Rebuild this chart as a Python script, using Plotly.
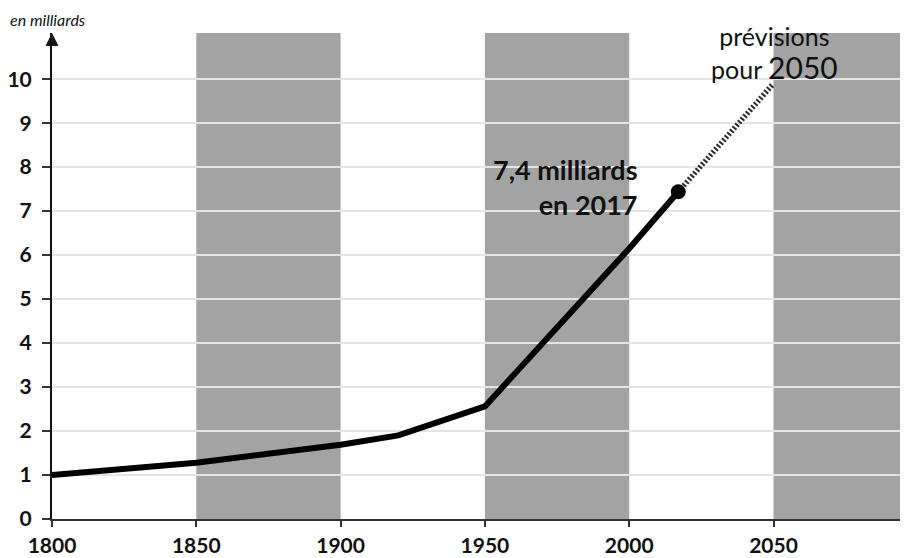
import plotly.graph_objects as go

years = [1800, 1850, 1900, 1920, 1950, 2000, 2017]
population = [1.0, 1.28, 1.69, 1.9, 2.56, 6.15, 7.44]
forecast_years = [2017, 2050]
forecast_pop = [7.44, 9.9]
band_starts = [1850, 1950, 2050]
band_ends = [1900, 2000, 2100]
x_ticks = [1800, 1850, 1900, 1950, 2000, 2050]
y_ticks = list(range(0, 11))

FONT = "Lato"
X_MAX = 2096.6
Y_MAX = 11.05
L, T, B = 44, 25, 39
PW, PH = 856, 486

fig = go.Figure()

fig.add_trace(go.Scatter(
    x=forecast_years, y=forecast_pop, mode="lines",
    line=dict(color="#2a2a2a", width=5.5, dash="2px,2px"),
    hoverinfo="skip", showlegend=False))

fig.add_trace(go.Scatter(
    x=years, y=population, mode="lines",
    line=dict(color="#000000", width=6),
    showlegend=False))

fig.add_trace(go.Scatter(
    x=[years[-1]], y=[population[-1]], mode="markers",
    marker=dict(color="#000000", size=15),
    showlegend=False))

shapes = []
for s, e in zip(band_starts, band_ends):
    shapes.append(dict(type="rect", xref="x", yref="paper", x0=s, x1=e, y0=0, y1=1,
                       fillcolor="#a3a3a3", line=dict(width=0), layer="below"))

annotations = [
    dict(text="<i>en milliards</i>", xref="paper", yref="paper", x=-L / PW, y=1 + 14 / PH,
         xanchor="left", yanchor="middle", showarrow=False,
         font=dict(family=FONT, size=16, color="#111")),
    dict(text="prévisions<br>pour <span style='font-size:30px'>2050</span>",
         xref="x", yref="y", x=2050.5, y=10.6,
         xanchor="center", yanchor="middle", showarrow=False,
         font=dict(family=FONT, size=25, color="#111")),
    dict(text="<b>7,4 milliards<br>en 2017</b>", xref="x", yref="y", x=2003.7, y=7.55,
         xanchor="right", yanchor="middle", align="right", showarrow=False,
         font=dict(family=FONT, size=27, color="#111")),
    dict(text="", xref="x", yref="paper", x=1800, y=1.0, ax=0, ay=12,
         showarrow=True, arrowhead=2, arrowsize=1.3, arrowwidth=2, arrowcolor="#111",
         standoff=0),
]

fig.update_layout(
    width=900, height=550,
    margin=dict(l=L, r=0, t=T, b=B, autoexpand=False),
    paper_bgcolor="white", plot_bgcolor="white",
    shapes=shapes, annotations=annotations,
    xaxis=dict(range=[1800, X_MAX], tickvals=x_ticks, showgrid=False, zeroline=False,
               showline=True, linecolor="#333", linewidth=2,
               ticks="outside", ticklen=6, tickwidth=1.5, tickcolor="#333",
               ticklabelstandoff=1,
               tickfont=dict(family=FONT, size=21, color="#111", weight="bold")),
    yaxis=dict(range=[0, Y_MAX], tickvals=y_ticks, showgrid=True, gridcolor="#e4e4e4",
               gridwidth=1.5, zeroline=False,
               showline=True, linecolor="#111", linewidth=2,
               ticks="outside", ticklen=8, tickwidth=1.5, tickcolor="#333",
               ticklabelstandoff=6,
               tickfont=dict(family=FONT, size=21, color="#111", weight="bold")),
    font=dict(family=FONT),
)

fig.write_html("out.html")
